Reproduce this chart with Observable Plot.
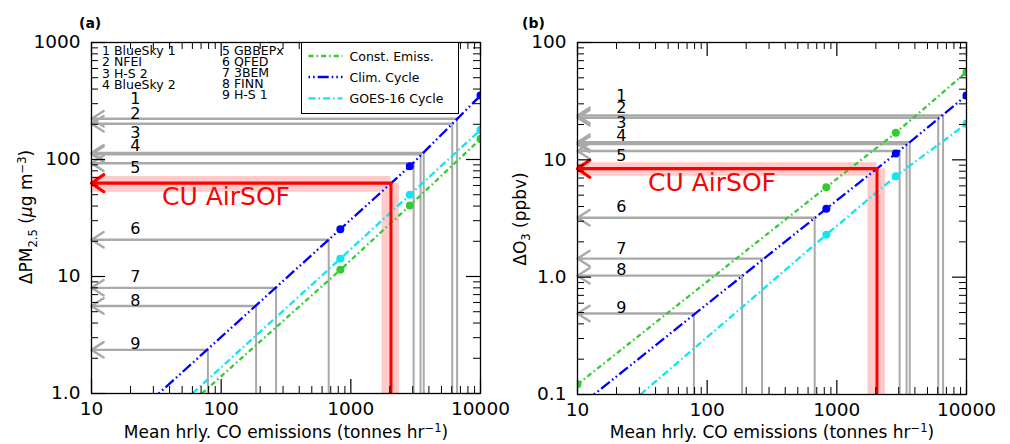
<!DOCTYPE html>
<html>
<head>
<meta charset="utf-8">
<script src="https://cdn.jsdelivr.net/npm/d3@7"></script>
<script src="https://cdn.jsdelivr.net/npm/@observablehq/plot@0.6"></script>
<style>
  html, body { margin: 0; padding: 0; background: #fff; }
  #wrap { position: relative; width: 1010px; height: 444px; overflow: hidden; background: #fff; font-family: "DejaVu Sans", sans-serif; color: #000; }
  .panel { position: absolute; top: 0; }
  .panel svg { overflow: visible; background: transparent; }
  .lab { position: absolute; white-space: nowrap; font-size: 17px; line-height: 1; }
  .ylab { transform: translate(-50%, -50%) rotate(-90deg); }
  .xlab { transform: translate(-50%, -50%); }
  .lab sub, .lab sup { font-size: 0.68em; }
  .tag { position: absolute; font-weight: bold; font-size: 14px; line-height: 1; }
  #legend { position: absolute; left: 301px; top: 42px; width: 158px; height: 72px; border: 1.2px solid #000; box-sizing: border-box; background: #fff; font-size: 12.5px; }
  #legend span { position: absolute; white-space: nowrap; transform: translateY(-50%); }
</style>
</head>
<body>
<div id="wrap">
  <div class="panel" id="pa" style="left:0px"></div>
  <div class="panel" id="pb" style="left:505px"></div>
  <div class="tag" style="left:79px;top:16px">(a)</div>
  <div class="tag" style="left:522px;top:16px">(b)</div>
  <div class="lab ylab" style="left:28px;top:217px">ΔPM<sub>2.5</sub> (<i>μ</i>g m<sup>−3</sup>)</div>
  <div class="lab ylab" style="left:522px;top:219px">ΔO<sub>3</sub> (ppbv)</div>
  <div class="lab xlab" style="left:286px;top:432px">Mean hrly. CO emissions (tonnes hr<sup>−1</sup>)</div>
  <div class="lab xlab" style="left:772px;top:432px">Mean hrly. CO emissions (tonnes hr<sup>−1</sup>)</div>
  <div id="legend"></div>
</div>
<script>
// ---------------- data ----------------
const xTicks = [10, 100, 1000, 10000];
const xTickLabels = ["10", "100", "1000", "10000"];
const pmTicks = [1, 10, 100, 1000];
const pmTickLabels = ["1.0", "10", "100", "1000"];
const o3Ticks = [0.1, 1, 10, 100];
const o3TickLabels = ["0.1", "1.0", "10", "100"];

const models = ["BlueSky 1", "NFEI", "H-S 2", "BlueSky 2", "GBBEPx", "QFED", "3BEM", "FINN", "H-S 1"];
const coEmis = [6600, 6050, 3650, 3450, 3050, 675, 265, 186, 79];
const dPM = [223, 202, 114, 111, 93, 20.6, 8.0, 5.6, 2.36];
const dO3 = [23.9, 22.8, 14.1, 13.6, 11.9, 3.21, 1.44, 1.03, 0.49];
// where the numbers 1..9 sit (data units)
const pmLabelY = [330, 246, 168, 130, 84.3, 25.4, 9.86, 6.24, 2.66];
const o3LabelY = [34.9, 27.6, 20.7, 16.1, 10.8, 3.95, 1.75, 1.16, 0.548];
const numberLabelCO = 21.8;

// CU AirSOF estimate with uncertainty range
const airsofCO = [1740, 2040, 2370];   // low, central, high
const airsofPM = [52.5, 62.7, 71.6];
const airsofO3 = [7.26, 8.4, 9.45];
const airsofTextPos = {co: 35, pm: 47.6, o3: 6.32};

// scenario lines
const seriesNames = ["Const. Emiss.", "Clim. Cycle", "GOES-16 Cycle"];
const dotCO = [830, 2850, 10000];
const pmConst = [11.4, 40.4, 150];
const pmClim = [25.4, 87.6, 352];
const pmGoes = [14.2, 49.9, 179];
const pmStartCO = [71, 33, 60];
const pmStartVal = [1, 1, 1];
const o3Const = [5.85, 17.0, 56];
const o3Clim = [3.83, 11.3, 35.4];
const o3Goes = [2.30, 7.26, 20.3];
const o3StartCO = [10, 13.4, 30.6];
const o3StartVal = [0.122, 0.1, 0.1];
const o3StartDot = [true, false, false];

// ---------------- styles ----------------
const seriesStyle = [
  {color: "#33cc33", dash: "5,3,1.6,3"},
  {color: "#0000ff", dash: "1.6,3,1.6,3,11,3"},
  {color: "#11e6ee", dash: "7,3,1.6,3"}
];
const GRAY = "#a9a9a9", RED = "#ff0000", PINK = "#ffcaca";

function minors(lo, hi) {
  const out = [];
  for (let p = lo; p < hi * 0.999; p *= 10)
    for (let k = 2; k < 10; k++) out.push(+(p * k).toPrecision(3));
  return out;
}

function makePanel(o) {
  const W = 505, H = 444;
  const pw = W - o.ml - o.mr, ph = H - o.mt - o.mb;
  const xDom = [10, 10000];
  const yDom = o.yDomain;
  const idx = d3.range(models.length);
  const xMin = minors(10, 10000), yMin = minors(yDom[0], yDom[1]);

  const lineMarks = [], dotMarks = [];
  o.series.forEach((vals, s) => {
    const rows = [{co: o.startCO[s], v: o.startVal[s]}, ...dotCO.map((c, i) => ({co: c, v: vals[i]}))];
    lineMarks.push(Plot.line(rows, {x: "co", y: "v", stroke: seriesStyle[s].color, strokeWidth: 2.3,
      strokeDasharray: seriesStyle[s].dash, strokeLinecap: "butt", clip: true}));
    const drows = dotCO.map((c, i) => ({co: c, v: vals[i]}));
    if (o.startDot && o.startDot[s]) drows.unshift({co: o.startCO[s], v: o.startVal[s]});
    dotMarks.push(Plot.dot(drows, {x: "co", y: "v", r: 4, fill: seriesStyle[s].color, stroke: null, clip: true}));
  });

  const marks = [
    // uncertainty bands
    Plot.rect([0], {x1: xDom[0], x2: airsofCO[1], y1: o.red[0], y2: o.red[2], fill: PINK}),
    Plot.rect([0], {x1: airsofCO[0], x2: airsofCO[2], y1: yDom[0], y2: o.red[1], fill: PINK}),
    // gray model lines
    Plot.ruleX(idx, {x: i => coEmis[i], y1: yDom[0], y2: i => o.vals[i], stroke: GRAY, strokeWidth: 2}),
    Plot.arrow(idx, {x1: i => coEmis[i], y1: i => o.vals[i], x2: xDom[0], y2: i => o.vals[i],
      stroke: GRAY, strokeWidth: 2.4, headLength: 9, headAngle: 65, bend: 0}),
    ...lineMarks,
    ...dotMarks,
    // red CU AirSOF
    Plot.ruleX([0], {x: airsofCO[1], y1: yDom[0], y2: o.red[1], stroke: RED, strokeWidth: 3}),
    Plot.arrow([0], {x1: airsofCO[1], y1: o.red[1], x2: xDom[0], y2: o.red[1],
      stroke: RED, strokeWidth: 3.2, headLength: 7, headAngle: 70, bend: 0}),
    Plot.text(["CU AirSOF"], {x: airsofTextPos.co, y: o.textY, text: d => d, textAnchor: "start",
      fill: RED, fontSize: 25, fontFamily: "DejaVu Sans"}),
    // numbers
    Plot.text(idx, {x: numberLabelCO, y: i => o.labelY[i], text: i => String(i + 1), fontSize: 16,
      fill: "#000", fontFamily: "DejaVu Sans"}),
    // ticks (inward, all four sides)
    Plot.tickX(xTicks, {x: d => d, insetTop: ph - 14, stroke: "#000", strokeWidth: 1.2}),
    Plot.tickX(xTicks, {x: d => d, insetBottom: ph - 14, stroke: "#000", strokeWidth: 1.2}),
    Plot.tickX(xMin, {x: d => d, insetTop: ph - 7, stroke: "#000", strokeWidth: 1}),
    Plot.tickX(xMin, {x: d => d, insetBottom: ph - 7, stroke: "#000", strokeWidth: 1}),
    Plot.tickY(o.yTicks, {y: d => d, insetRight: pw - 14, stroke: "#000", strokeWidth: 1.2}),
    Plot.tickY(o.yTicks, {y: d => d, insetLeft: pw - 14, stroke: "#000", strokeWidth: 1.2}),
    Plot.tickY(yMin, {y: d => d, insetRight: pw - 7, stroke: "#000", strokeWidth: 1}),
    Plot.tickY(yMin, {y: d => d, insetLeft: pw - 7, stroke: "#000", strokeWidth: 1}),
    // tick labels
    Plot.text(xTicks, {x: d => d, frameAnchor: "bottom", dy: 16, text: (d, i) => xTickLabels[i],
      fontSize: 18.5, lineAnchor: "middle", fill: "#000", fontFamily: "DejaVu Sans"}),
    Plot.text(o.yTicks, {y: d => d, frameAnchor: "left", dx: -11, textAnchor: "end", text: (d, i) => o.yTickLabels[i],
      fontSize: 18.5, lineAnchor: "middle", fill: "#000", fontFamily: "DejaVu Sans"}),
    Plot.frame({stroke: "#000", strokeWidth: 1.3})
  ];
  if (o.modelList) {
    const col1 = models.slice(0, 4).map((m, i) => `${i + 1} ${m}`).join("\n");
    const col2 = models.slice(4).map((m, i) => `${i + 5} ${m}`).join("\n");
    marks.push(Plot.text([col1], {frameAnchor: "top-left", dx: 10.5, dy: 4, text: d => d, lineAnchor: "top",
      textAnchor: "start", lineHeight: 0.92, fontSize: 12.5, fill: "#000", fontFamily: "DejaVu Sans"}));
    marks.push(Plot.text([col2], {frameAnchor: "top-left", dx: 130.5, dy: 4, text: d => d, lineAnchor: "top",
      textAnchor: "start", lineHeight: 0.9, fontSize: 12.5, fill: "#000", fontFamily: "DejaVu Sans"}));
  }
  return Plot.plot({
    width: W, height: H,
    marginLeft: o.ml, marginRight: o.mr, marginTop: o.mt, marginBottom: o.mb,
    style: {fontFamily: "DejaVu Sans", background: "transparent", overflow: "visible"},
    x: {type: "log", domain: xDom, axis: null},
    y: {type: "log", domain: yDom, axis: null},
    marks
  });
}

document.getElementById("pa").appendChild(makePanel({
  ml: 91, mr: 25, mt: 42, mb: 51,
  yDomain: [1, 1000], yTicks: pmTicks, yTickLabels: pmTickLabels,
  vals: dPM, labelY: pmLabelY, red: airsofPM, textY: airsofTextPos.pm,
  series: [pmConst, pmClim, pmGoes], startCO: pmStartCO, startVal: pmStartVal,
  modelList: true
}));
document.getElementById("pb").appendChild(makePanel({
  ml: 72, mr: 44, mt: 42, mb: 50,
  yDomain: [0.1, 100], yTicks: o3Ticks, yTickLabels: o3TickLabels,
  vals: dO3, labelY: o3LabelY, red: airsofO3, textY: airsofTextPos.o3,
  series: [o3Const, o3Clim, o3Goes], startCO: o3StartCO, startVal: o3StartVal, startDot: o3StartDot
}));

// legend
const leg = document.getElementById("legend");
const ns = "http://www.w3.org/2000/svg";
const lsvg = document.createElementNS(ns, "svg");
lsvg.setAttribute("width", "156"); lsvg.setAttribute("height", "70");
lsvg.style.position = "absolute"; lsvg.style.left = "0"; lsvg.style.top = "0";
const rowY = [13, 34, 55.3];
seriesNames.forEach((name, s) => {
  const ln = document.createElementNS(ns, "line");
  ln.setAttribute("x1", 6.5); ln.setAttribute("x2", 40.5);
  ln.setAttribute("y1", rowY[s]); ln.setAttribute("y2", rowY[s]);
  ln.setAttribute("stroke", seriesStyle[s].color);
  ln.setAttribute("stroke-width", 2.3);
  ln.setAttribute("stroke-dasharray", seriesStyle[s].dash);
  lsvg.appendChild(ln);
  const sp = document.createElement("span");
  sp.textContent = name;
  sp.style.left = "47.5px"; sp.style.top = rowY[s] + "px";
  leg.appendChild(sp);
});
leg.appendChild(lsvg);
</script>
</body>
</html>
